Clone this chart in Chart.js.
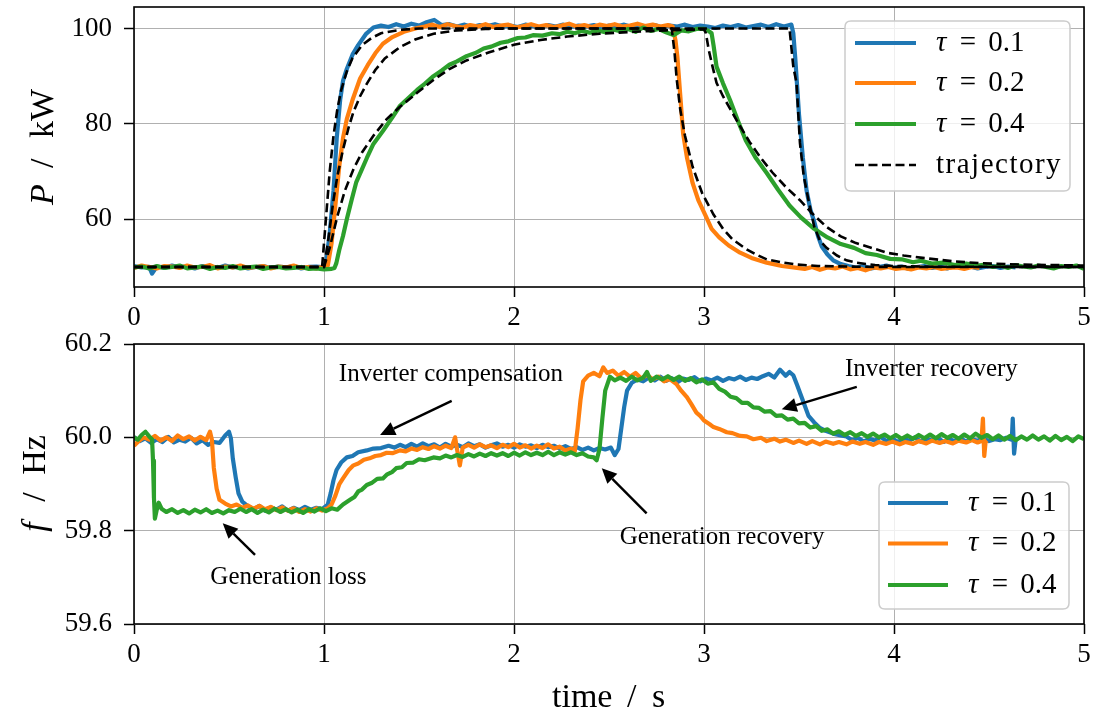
<!DOCTYPE html>
<html><head><meta charset="utf-8">
<script src="https://cdn.jsdelivr.net/npm/chart.js@4.4.1/dist/chart.umd.min.js"></script>
<style>
html,body{margin:0;padding:0;background:#fff;width:1105px;height:714px;overflow:hidden}
#c1{position:absolute;left:0;top:0;width:1105px;height:340px}
#c2{position:absolute;left:0;top:320px;width:1105px;height:394px}
</style></head><body>
<canvas id="c1" width="1105" height="340"></canvas>
<canvas id="c2" width="1105" height="394"></canvas>
<script>
// ---------------- DATA ----------------
const xTicks = [0, 1, 2, 3, 4, 5];
const xTickLabels = ['0', '1', '2', '3', '4', '5'];
const yTicksP = [60, 80, 100];
const yTickLabelsP = ['60', '80', '100'];
const yTicksF = [59.6, 59.8, 60.0, 60.2];
const yTickLabelsF = ['59.6', '59.8', '60.0', '60.2'];
const seriesLabels = ['τ = 0.1', 'τ = 0.2', 'τ = 0.4', 'trajectory'];

// Active power P [kW] vs time [s]
const P_tau01 = [
[0,50.2],[0.04,49.9],[0.08,50.0],[0.095,48.6],[0.12,50.1],[0.16,49.8],[0.2,50.3],[0.24,49.9],[0.28,50.1],[0.32,49.7],[0.36,50.2],[0.4,50.0],[0.44,49.8],[0.48,50.3],[0.52,49.9],[0.56,50.1],[0.6,49.7],[0.64,50.0],[0.68,50.2],[0.72,49.8],[0.76,50.1],[0.8,49.9],[0.84,50.2],[0.88,49.7],[0.92,50.0],[0.96,50.1],[1.0,49.9],
[1.01,50.5],[1.03,57],[1.05,66],[1.067,77],[1.085,85],[1.1,89],[1.12,91.5],[1.15,94.5],[1.18,96.5],[1.22,98.8],[1.26,100.2],[1.3,100.6],
[1.34,100.3],[1.38,100.9],[1.42,100.4],[1.46,101.0],[1.5,100.6],[1.54,101.3],[1.58,101.8],[1.62,100.7],[1.66,100.9],[1.7,100.4],[1.74,100.8],[1.78,100.3],[1.82,100.7],[1.86,100.5],[1.9,100.9],[1.94,100.4],[1.98,100.6],[2.02,100.3],[2.06,100.8],[2.1,100.5],[2.14,100.2],[2.18,100.7],[2.22,100.4],[2.26,100.8],[2.3,100.3],[2.34,100.6],[2.38,100.4],[2.42,100.7],[2.46,100.2],[2.5,100.6],[2.54,100.4],[2.58,100.8],[2.62,100.3],[2.66,100.6],[2.7,100.4],[2.74,100.7],[2.78,100.2],[2.82,100.6],[2.86,100.4],[2.9,100.8],[2.94,100.3],[2.98,100.6],[3.02,100.4],[3.06,100.1],[3.1,100.6],[3.14,100.3],[3.18,100.7],[3.22,100.2],[3.26,100.5],[3.3,100.8],[3.34,100.3],[3.38,100.9],[3.42,100.4],[3.46,100.8],
[3.47,99],[3.48,94],[3.49,88],[3.5,82],[3.52,73],[3.54,66],[3.56,62],[3.58,59.5],[3.6,56.5],[3.62,54.3],[3.65,52.6],[3.68,51.4],[3.72,50.6],[3.76,50.2],
[3.8,49.9],[3.84,50.2],[3.88,49.7],[3.92,50.0],[3.96,50.3],[4.0,49.8],[4.04,50.1],[4.08,49.6],[4.12,50.0],[4.16,50.2],[4.2,49.8],[4.24,50.1],[4.28,49.7],[4.32,50.2],[4.36,49.9],[4.4,50.1],[4.44,49.7],[4.48,50.0],[4.52,50.2],[4.56,49.8],[4.6,50.1],[4.64,49.9]
];
const P_tau02 = [
[0,49.8],[0.04,50.3],[0.08,50.0],[0.12,49.7],[0.16,50.2],[0.2,50.1],[0.24,49.8],[0.28,50.3],[0.32,49.9],[0.36,50.0],[0.4,50.4],[0.44,49.7],[0.48,50.1],[0.52,49.9],[0.56,50.3],[0.6,49.8],[0.64,50.0],[0.68,50.2],[0.72,49.7],[0.76,50.1],[0.8,49.9],[0.84,50.3],[0.88,49.8],[0.92,50.0],[0.96,49.7],[1.0,50.1],
[1.02,50.3],[1.04,55],[1.06,63],[1.08,71],[1.1,77],[1.12,81],[1.15,85],[1.19,89.5],[1.23,92.3],[1.27,94.8],[1.31,96.8],[1.36,98.2],[1.42,99.3],[1.49,100.1],
[1.53,100.4],[1.57,100.8],[1.61,100.3],[1.65,100.9],[1.69,100.5],[1.73,100.2],[1.77,100.7],[1.81,100.4],[1.85,100.9],[1.89,100.3],[1.93,100.6],[1.97,100.8],[2.01,100.2],[2.05,100.5],[2.09,100.9],[2.13,100.4],[2.17,100.7],[2.21,100.3],[2.25,100.6],[2.29,101.0],[2.33,100.4],[2.37,100.7],[2.41,100.3],[2.45,100.8],[2.49,100.5],[2.53,100.9],[2.57,100.4],[2.61,100.6],[2.65,101.0],[2.69,100.5],[2.73,100.8],[2.77,100.4],[2.81,100.7],
[2.835,100.4],[2.85,97.5],[2.86,94],[2.875,86],[2.89,78],[2.91,73],[2.94,67.6],[2.97,64],[3.01,60.6],[3.04,58],[3.08,56.2],[3.13,54.5],[3.19,53],[3.25,51.9],[3.33,50.9],[3.41,50.2],[3.49,49.8],
[3.53,49.6],[3.57,50.0],[3.61,49.4],[3.65,49.9],[3.69,49.7],[3.73,50.1],[3.77,49.5],[3.81,49.8],[3.85,49.3],[3.89,49.9],[3.93,49.7],[3.97,50.0],[4.01,49.6],[4.05,49.8],[4.09,49.5],[4.13,49.9],[4.17,49.7],[4.21,50.0],[4.25,49.6],[4.29,49.8],[4.33,49.9],[4.37,49.6],[4.41,50.0],[4.45,49.8]
];
const P_tau04 = [
[0,49.9],[0.04,50.1],[0.08,49.7],[0.12,50.2],[0.16,49.8],[0.2,50.0],[0.24,50.3],[0.28,49.7],[0.32,49.9],[0.36,50.1],[0.4,49.6],[0.44,50.0],[0.48,49.8],[0.52,50.2],[0.56,49.7],[0.6,49.9],[0.64,50.1],[0.68,49.6],[0.72,49.9],[0.76,50.0],[0.8,49.7],[0.84,49.8],[0.88,50.0],[0.92,49.6],[0.96,49.7],[1.0,49.5],[1.04,49.6],
[1.055,49.8],[1.065,50.8],[1.08,53.5],[1.1,56.5],[1.12,60],[1.145,64],[1.17,67.8],[1.2,70.5],[1.225,72.8],[1.26,75.8],[1.31,78.5],[1.36,81.4],[1.4,83.8],[1.45,85.6],[1.49,87.1],[1.53,88.4],[1.576,90],[1.62,91.2],[1.66,92.4],[1.7,93.1],[1.75,94.2],[1.8,94.9],[1.84,95.8],[1.88,96.2],[1.93,97.0],[1.97,97.3],[2.02,98.0],[2.06,98.1],[2.1,98.6],[2.15,98.5],[2.2,99.0],
[2.24,98.8],[2.28,99.3],[2.32,99.0],[2.36,99.5],[2.4,99.1],[2.44,99.6],[2.48,99.2],[2.52,99.8],[2.56,99.4],[2.6,99.9],[2.64,99.3],[2.68,100.2],[2.72,99.5],[2.76,99.9],[2.8,99.2],[2.84,98.6],[2.88,99.6],[2.92,99.4],[2.96,99.9],
[3.0,99.9],[3.02,99.6],[3.04,99],[3.05,96.5],[3.066,92],[3.1,88.5],[3.137,85],[3.18,80.5],[3.22,76.5],[3.27,73],[3.33,69.7],[3.39,66.2],[3.45,62.9],[3.51,60.4],[3.58,58],[3.65,56.2],[3.72,54.8],[3.79,54.0],[3.85,52.9],[3.91,52.5],[3.98,51.7],[4.04,51.6],[4.1,51.0],[4.14,51.3],[4.2,50.7],[4.26,50.9],[4.32,50.4],[4.38,50.7],[4.44,50.3],
[4.48,50.5],[4.52,50.0],[4.56,50.3],[4.6,49.8],[4.64,50.4],[4.68,50.1],[4.72,49.9],[4.76,50.3],[4.8,50.0],[4.84,49.7],[4.88,50.2],[4.92,50.0],[4.96,50.3],[5.0,49.6]
];
const P_traj01 = [
[0,50],[0.99,50],[1.01,60],[1.03,70],[1.05,77.5],[1.07,83],[1.09,87],[1.12,91],[1.15,93.8],[1.2,96.5],[1.25,98],[1.3,99],[1.4,99.7],[1.5,100],
[3.45,100],[3.47,92],[3.487,88.6],[3.505,76],[3.525,69],[3.55,64],[3.58,58.5],[3.61,55.5],[3.645,54],[3.7,52.4],[3.75,51.4],[3.8,50.9],[3.9,50.4],[4.0,50.2],[4.2,50.05],[5,50]
];
const P_traj02 = [
[0,50],[1.0,50],[1.02,55],[1.048,63.5],[1.07,69],[1.1,74.6],[1.13,79.3],[1.155,82.5],[1.19,85.8],[1.225,88.4],[1.27,91.3],[1.32,93.7],[1.4,96.1],[1.48,97.7],[1.577,98.9],[1.7,99.6],[1.85,99.9],[2.0,100],
[2.83,100],[2.845,95],[2.856,89.5],[2.875,83],[2.9,77.5],[2.94,71],[2.99,65.5],[3.05,61],[3.1,58],[3.15,55.8],[3.22,53.8],[3.28,52.5],[3.33,51.6],[3.42,50.9],[3.49,50.5],[3.6,50.2],[3.8,50.05],[4.0,50],[5,50]
];
const P_traj04 = [
[0,50],[1.0,50],[1.03,54],[1.07,60.6],[1.11,66],[1.155,70.5],[1.2,74],[1.26,77.5],[1.33,81],[1.4,83.6],[1.49,86.5],[1.576,89.2],[1.66,91.5],[1.75,93.3],[1.87,95],[2.0,96.6],[2.14,97.6],[2.28,98.3],[2.45,98.9],[2.63,99.3],[2.8,99.6],[3.0,99.8],
[3.01,99],[3.025,95.5],[3.045,92],[3.066,88.6],[3.1,85.8],[3.137,83.2],[3.19,79.5],[3.24,76.2],[3.3,72.8],[3.36,69.8],[3.43,66.8],[3.505,64],[3.57,61.2],[3.645,58.4],[3.72,56.4],[3.8,55],[3.89,53.9],[3.96,53],[4.05,52.4],[4.15,51.9],[4.31,51.2],[4.45,50.8],[4.66,50.5],[5,50.3]
];

// Frequency f [Hz] vs time [s]
const F_tau01 = [
[0,60.0],[0.03,59.992],[0.06,59.998],[0.09,59.988],[0.12,59.996],[0.15,59.99],[0.18,60.001],[0.21,59.989],[0.24,59.995],[0.27,59.991],[0.3,59.999],[0.33,59.987],[0.36,59.994],[0.39,59.984],[0.42,59.99],[0.45,59.988],[0.48,60.004],
[0.5,60.012],[0.51,59.998],[0.52,59.955],[0.535,59.915],[0.55,59.88],[0.57,59.862],[0.6,59.852],
[0.63,59.846],[0.66,59.853],[0.69,59.843],[0.72,59.85],[0.75,59.845],[0.78,59.852],[0.81,59.843],[0.84,59.849],[0.87,59.844],[0.9,59.851],[0.93,59.845],[0.96,59.849],[0.99,59.846],
[1.02,59.856],[1.035,59.88],[1.05,59.908],[1.066,59.93],[1.09,59.946],[1.12,59.957],[1.15,59.96],[1.18,59.968],[1.225,59.972],[1.26,59.976],[1.3,59.977],[1.34,59.982],[1.37,59.978],
[1.4,59.984],[1.43,59.979],[1.46,59.986],[1.49,59.98],[1.52,59.987],[1.55,59.981],[1.58,59.985],[1.61,59.978],[1.64,59.986],[1.67,59.98],[1.7,59.984],[1.73,59.979],[1.76,59.987],[1.79,59.981],[1.82,59.985],[1.85,59.978],[1.88,59.983],[1.91,59.987],[1.94,59.98],[1.97,59.984],[2.0,59.978],[2.03,59.985],[2.06,59.98],[2.09,59.983],[2.12,59.977],[2.15,59.984],[2.18,59.979],[2.21,59.982],[2.24,59.976],[2.27,59.981],[2.3,59.975],[2.33,59.979],[2.36,59.973],[2.39,59.978],[2.42,59.972],[2.45,59.977],[2.48,59.974],[2.51,59.978],
[2.53,59.962],[2.55,59.975],[2.565,60.02],[2.58,60.065],[2.595,60.1],[2.62,60.117],[2.65,60.124],
[2.68,60.12],[2.71,60.128],[2.74,60.122],[2.77,60.13],[2.8,60.121],[2.83,60.127],[2.86,60.118],[2.89,60.126],[2.92,60.123],[2.95,60.129],[2.98,60.12],[3.01,60.126],[3.04,60.122],[3.07,60.128],[3.1,60.121],[3.13,60.127],[3.16,60.124],[3.19,60.13],[3.22,60.123],[3.25,60.128],[3.28,60.125],[3.31,60.131],
[3.34,60.136],[3.37,60.128],[3.4,60.145],[3.43,60.132],[3.45,60.14],[3.47,60.133],[3.49,60.112],[3.51,60.09],[3.53,60.068],[3.55,60.046],[3.58,60.032],[3.61,60.02],[3.64,60.014],[3.68,60.008],[3.72,60.004],
[3.75,60.002],[3.78,59.994],[3.81,59.999],[3.84,59.991],[3.87,59.997],[3.9,59.993],[3.93,60.001],[3.96,59.992],[3.99,59.998],[4.02,59.99],[4.05,59.996],[4.08,59.993],[4.11,60.0],[4.14,59.991],[4.17,59.997],[4.2,59.993],[4.23,59.999],[4.26,59.99],[4.29,59.996],[4.32,59.992],[4.35,59.998],[4.38,59.991],[4.41,59.995],[4.44,59.993],[4.47,59.998],[4.5,59.992],[4.53,59.996],[4.56,59.994],[4.59,59.999],
[4.62,59.995],[4.625,60.04],[4.632,59.965],[4.64,59.995],[4.65,59.998]
];
const F_tau02 = [
[0,59.982],[0.02,59.99],[0.05,60.0],[0.08,59.995],[0.11,60.003],[0.14,59.993],[0.17,60.0],[0.2,59.992],[0.23,60.004],[0.26,59.996],[0.29,60.002],[0.32,59.993],[0.35,60.001],[0.38,59.994],[0.4,60.012],[0.41,59.995],[0.42,59.935],[0.435,59.89],[0.45,59.866],[0.48,59.858],
[0.51,59.852],[0.54,59.856],[0.57,59.849],[0.6,59.854],[0.63,59.847],[0.66,59.853],[0.69,59.846],[0.72,59.851],[0.75,59.844],[0.78,59.85],[0.81,59.843],[0.84,59.848],[0.87,59.84],[0.9,59.846],[0.93,59.841],[0.96,59.848],[0.99,59.843],[1.02,59.848],
[1.04,59.856],[1.06,59.875],[1.08,59.899],[1.1,59.912],[1.13,59.93],[1.155,59.94],[1.18,59.944],[1.21,59.952],[1.24,59.955],[1.27,59.96],[1.3,59.962],[1.33,59.967],[1.36,59.966],[1.4,59.972],[1.43,59.97],[1.46,59.976],[1.49,59.973],[1.52,59.979],[1.55,59.975],[1.58,59.981],[1.61,59.976],[1.64,59.982],[1.67,59.977],[1.69,60.0],[1.7,59.975],[1.715,59.94],[1.73,59.978],[1.76,59.984],[1.79,59.978],[1.82,59.985],[1.85,59.979],[1.88,59.983],[1.91,59.977],[1.94,59.984],[1.97,59.979],[2.0,59.986],[2.03,59.978],[2.06,59.983],[2.09,59.976],[2.12,59.982],[2.15,59.977],[2.18,59.985],[2.21,59.976],[2.24,59.98],[2.27,59.972],[2.3,59.976],[2.32,59.97],
[2.335,60.02],[2.35,60.08],[2.364,60.12],[2.39,60.132],[2.42,60.138],[2.45,60.131],[2.47,60.15],[2.49,60.138],[2.52,60.143],[2.55,60.132],[2.58,60.14],[2.61,60.13],[2.64,60.138],[2.67,60.126],[2.7,60.134],[2.73,60.124],[2.76,60.13],[2.79,60.12],[2.82,60.125],[2.855,60.114],
[2.88,60.1],[2.91,60.086],[2.935,60.07],[2.96,60.053],[2.98,60.046],[3.0,60.036],[3.03,60.028],[3.05,60.022],[3.08,60.018],[3.12,60.011],[3.15,60.009],[3.19,60.003],[3.225,60.002],[3.26,59.996],[3.3,59.999],[3.33,59.992],[3.37,59.997],[3.4,59.991],[3.43,59.995],[3.47,59.988],[3.5,59.993],[3.54,59.986],[3.57,59.992],[3.61,59.985],[3.64,59.991],[3.68,59.986],[3.71,59.99],[3.75,59.985],[3.78,59.991],[3.82,59.986],[3.85,59.99],[3.89,59.984],[3.92,59.99],[3.96,59.986],[3.99,59.991],[4.03,59.985],[4.06,59.99],[4.1,59.986],[4.13,59.992],[4.17,59.987],[4.2,59.993],[4.24,59.988],[4.27,59.992],[4.31,59.987],[4.34,59.993],[4.38,59.989],[4.41,59.994],[4.44,59.989],[4.46,59.992],[4.468,60.04],[4.475,59.96],[4.482,59.99],[4.49,59.993]
];
const F_tau04 = [
[0,60.0],[0.02,59.995],[0.04,60.005],[0.06,60.012],[0.08,60.002],[0.095,59.996],[0.1,59.95],[0.105,59.87],[0.11,59.826],[0.12,59.845],[0.13,59.86],[0.145,59.847],
[0.17,59.84],[0.2,59.846],[0.23,59.838],[0.26,59.844],[0.29,59.837],[0.32,59.845],[0.35,59.839],[0.38,59.846],[0.41,59.838],[0.44,59.843],[0.47,59.837],[0.5,59.844],[0.53,59.84],[0.56,59.847],[0.59,59.84],[0.62,59.846],[0.65,59.838],[0.68,59.845],[0.71,59.839],[0.74,59.847],[0.77,59.84],[0.8,59.846],[0.83,59.839],[0.86,59.845],[0.89,59.838],[0.92,59.846],[0.95,59.841],[0.98,59.848],[1.01,59.842],[1.04,59.848],
[1.07,59.845],[1.1,59.856],[1.137,59.866],[1.16,59.872],[1.18,59.884],[1.2,59.888],[1.225,59.898],[1.25,59.902],[1.28,59.911],[1.31,59.912],[1.33,59.92],[1.36,59.926],[1.38,59.934],[1.41,59.936],[1.435,59.945],[1.47,59.946],[1.5,59.953],[1.53,59.951],[1.576,59.957],[1.61,59.955],[1.64,59.961],[1.67,59.957],[1.7,59.962],[1.73,59.958],[1.76,59.964],[1.79,59.959],[1.82,59.965],[1.85,59.96],[1.88,59.966],[1.91,59.961],[1.94,59.966],[1.97,59.96],[2.0,59.967],[2.03,59.961],[2.06,59.968],[2.09,59.962],[2.12,59.967],[2.15,59.962],[2.18,59.969],[2.21,59.962],[2.24,59.968],[2.27,59.963],[2.3,59.968],[2.33,59.962],[2.36,59.966],[2.39,59.959],[2.42,59.957],[2.435,59.951],
[2.45,59.975],[2.465,60.04],[2.48,60.1],[2.505,60.13],[2.53,60.122],[2.56,60.128],[2.59,60.121],[2.62,60.13],[2.65,60.122],[2.68,60.128],[2.7,60.14],[2.72,60.121],[2.75,60.13],[2.78,60.124],[2.81,60.131],[2.84,60.123],[2.87,60.13],[2.9,60.121],[2.93,60.127],[2.96,60.118],[2.99,60.124],[3.02,60.115],[3.05,60.118],
[3.08,60.104],[3.11,60.098],[3.14,60.087],[3.17,60.084],[3.2,60.074],[3.23,60.074],[3.26,60.064],[3.29,60.063],[3.32,60.055],[3.35,60.056],[3.38,60.046],[3.41,60.047],[3.44,60.038],[3.47,60.04],[3.5,60.03],[3.53,60.031],[3.56,60.021],[3.59,60.024],[3.62,60.014],[3.65,60.017],[3.68,60.008],[3.71,60.013],[3.74,60.005],[3.77,60.011],[3.8,60.003],[3.83,60.009],[3.86,60.001],[3.89,60.008],[3.92,60.0],[3.95,60.006],[3.98,59.998],[4.01,60.005],[4.04,59.997],[4.07,60.004],[4.1,59.997],[4.13,60.005],[4.16,59.998],[4.19,60.006],[4.22,59.998],[4.25,60.007],[4.28,59.999],[4.31,60.005],[4.34,59.997],[4.37,60.006],[4.4,59.998],[4.43,60.008],[4.46,59.999],[4.49,60.005],[4.52,59.996],[4.55,60.004],[4.58,59.995],[4.61,60.003],[4.64,59.994],[4.67,60.002],[4.7,59.995],[4.73,60.004],[4.76,59.995],[4.79,60.002],[4.82,59.993],[4.85,60.003],[4.88,59.994],[4.91,60.001],[4.94,59.992],[4.97,60.002],[5.0,59.996]
];

const annotationTexts = ['Inverter compensation', 'Generation loss', 'Generation recovery', 'Inverter recovery'];

// ---------------- RENDERING ----------------
const FAM = '"Liberation Serif", "Times New Roman", serif';
const COLORS = ['#1f77b4', '#ff7f0e', '#2ca02c'];
const toXY = a => a.map(p => ({x: p[0], y: p[1]}));

function lineDs(label, data, color, order) {
  return {label, data: toXY(data), borderColor: color, borderWidth: 4.2, pointRadius: 0, fill: false,
    tension: 0, borderJoinStyle: 'round', order};
}
function trajDs(label, data) {
  return {label, data: toXY(data), borderColor: '#000', borderWidth: 2.6, borderDash: [9, 4.5],
    pointRadius: 0, fill: false, tension: 0, order: 0};
}
function gridOpts() {
  return {color: '#b0b0b0', lineWidth: 1, tickColor: '#000', tickLength: 10, tickWidth: 1.5};
}
function zeroPad(s) { s.paddingTop = 0; s.paddingBottom = 0; s.paddingLeft = 0; s.paddingRight = 0; }
function xScale(h) {
  return {type: 'linear', min: 0, max: 5,
    afterBuildTicks: s => { s.ticks = xTicks.map(v => ({value: v})); },
    afterFit: s => { s.height = h; zeroPad(s); },
    grid: gridOpts(), border: {display: false},
    ticks: {font: {family: FAM, size: 27}, color: '#000', padding: 5, maxRotation: 0, autoSkip: false,
      callback: (v, i) => xTickLabels[i]}};
}
function yScale(min, max, tv, tl) {
  return {type: 'linear', min, max,
    afterBuildTicks: s => { s.ticks = tv.map(v => ({value: v})); },
    afterFit: s => { s.width = 134; zeroPad(s); },
    grid: gridOpts(), border: {display: false},
    ticks: {font: {family: FAM, size: 27}, color: '#000', padding: 12, autoSkip: false,
      callback: (v, i) => tl[i]}};
}

function roundRect(ctx, x, y, w, h, r) {
  ctx.beginPath();
  ctx.moveTo(x + r, y); ctx.lineTo(x + w - r, y); ctx.quadraticCurveTo(x + w, y, x + w, y + r);
  ctx.lineTo(x + w, y + h - r); ctx.quadraticCurveTo(x + w, y + h, x + w - r, y + h);
  ctx.lineTo(x + r, y + h); ctx.quadraticCurveTo(x, y + h, x, y + h - r);
  ctx.lineTo(x, y + r); ctx.quadraticCurveTo(x, y, x + r, y); ctx.closePath();
}
function drawLabel(ctx, label, x, y, size) {
  ctx.fillStyle = '#000'; ctx.textBaseline = 'middle'; ctx.textAlign = 'left';
  const m = label.match(/^τ\s*=\s*(.*)$/);
  if (m) {
    ctx.font = `italic ${size}px ${FAM}`; ctx.fillText('τ', x, y);
    ctx.font = `${size}px ${FAM}`;
    ctx.fillText('=', x + 0.82 * size, y);
    ctx.fillText(m[1], x + 1.8 * size, y);
  } else {
    ctx.font = `${size}px ${FAM}`;
    try { ctx.letterSpacing = '1.5px'; } catch (e) {}
    ctx.fillText(label, x, y);
    try { ctx.letterSpacing = '0px'; } catch (e) {}
  }
}
function drawArrow(ctx, x0, y0, x1, y1) {
  const a = Math.atan2(y1 - y0, x1 - x0), hl = 15, hw = 7;
  const bx = x1 - hl * Math.cos(a), by = y1 - hl * Math.sin(a);
  ctx.strokeStyle = '#000'; ctx.lineWidth = 2.4;
  ctx.beginPath(); ctx.moveTo(x0, y0); ctx.lineTo(bx, by); ctx.stroke();
  ctx.fillStyle = '#000'; ctx.beginPath();
  ctx.moveTo(x1, y1);
  ctx.lineTo(bx + hw * Math.sin(a), by - hw * Math.cos(a));
  ctx.lineTo(bx - hw * Math.sin(a), by + hw * Math.cos(a));
  ctx.closePath(); ctx.fill();
}
function drawParts(ctx, parts, size) {
  parts.forEach(p => {
    ctx.font = `${p.italic ? 'italic ' : ''}${size}px ${FAM}`;
    ctx.fillText(p.t, p.off, 0);
  });
}

const deco = {
  id: 'deco',
  afterDatasetsDraw(chart, args, o) {
    const ctx = chart.ctx, ca = chart.chartArea, sx = chart.scales.x, sy = chart.scales.y;
    ctx.save();
    ctx.strokeStyle = '#000'; ctx.lineWidth = 1.6;
    ctx.strokeRect(ca.left, ca.top, ca.right - ca.left, ca.bottom - ca.top);
    (o.annotations || []).forEach(an => {
      ctx.font = `25px ${FAM}`; ctx.fillStyle = '#000';
      ctx.textAlign = 'center'; ctx.textBaseline = 'middle';
      ctx.fillText(an.text, sx.getPixelForValue(an.tx), sy.getPixelForValue(an.ty));
      drawArrow(ctx, sx.getPixelForValue(an.a[0]), sy.getPixelForValue(an.a[1]),
        sx.getPixelForValue(an.a[2]), sy.getPixelForValue(an.a[3]));
    });
    const L = o.legend;
    if (L) {
      roundRect(ctx, L.box[0], L.box[1], L.box[2] - L.box[0], L.box[3] - L.box[1], 6);
      ctx.fillStyle = 'rgba(255,255,255,0.8)'; ctx.fill();
      ctx.strokeStyle = '#cccccc'; ctx.lineWidth = 1.5; ctx.stroke();
      L.items.forEach((di, i) => {
        const ds = chart.data.datasets[di], y = L.rows[i];
        ctx.beginPath(); ctx.setLineDash(ds.borderDash || []);
        ctx.strokeStyle = ds.borderColor; ctx.lineWidth = ds.borderWidth;
        ctx.moveTo(L.line[0], y); ctx.lineTo(L.line[1], y); ctx.stroke(); ctx.setLineDash([]);
        drawLabel(ctx, ds.label, L.text, y, L.size);
      });
    }
    ctx.restore();
  },
  afterDraw(chart, args, o) {
    const ctx = chart.ctx;
    ctx.save(); ctx.fillStyle = '#000'; ctx.textAlign = 'left'; ctx.textBaseline = 'alphabetic';
    if (o.yTitle) {
      const t = o.yTitle;
      ctx.translate(t.x, t.yc + t.len / 2); ctx.rotate(-Math.PI / 2);
      drawParts(ctx, t.parts, 34);
      ctx.setTransform(1, 0, 0, 1, 0, 0);
    }
    if (o.xTitle) {
      const t = o.xTitle;
      ctx.translate(0, t.y);
      drawParts(ctx, t.parts, 34);
    }
    ctx.restore();
  }
};

Chart.defaults.font.family = FAM;

new Chart(document.getElementById('c1'), {
  type: 'line',
  data: {datasets: [
    lineDs(seriesLabels[0], P_tau01, COLORS[0], 3),
    lineDs(seriesLabels[1], P_tau02, COLORS[1], 2),
    lineDs(seriesLabels[2], P_tau04, COLORS[2], 1),
    trajDs(seriesLabels[3], P_traj01),
    trajDs('', P_traj02),
    trajDs('', P_traj04)
  ]},
  options: {
    responsive: false, animation: false, normalized: true,
    layout: {autoPadding: false, padding: {top: 7, right: 21, left: 0, bottom: 0}},
    scales: {x: xScale(53), y: yScale(45.8, 104.5, yTicksP, yTickLabelsP)},
    plugins: {legend: {display: false}, tooltip: {enabled: false},
      deco: {
        legend: {box: [845, 21, 1070, 191], rows: [43, 83, 124, 165], line: [855, 916], text: 936, size: 29, items: [0, 1, 2, 3]},
        yTitle: {x: 53, yc: 148.5, len: 113, parts: [{t: 'P', italic: true, off: 0}, {t: '/', off: 37}, {t: 'kW', off: 67}]}
      }}
  },
  plugins: [deco]
});

new Chart(document.getElementById('c2'), {
  type: 'line',
  data: {datasets: [
    lineDs(seriesLabels[0], F_tau01, COLORS[0], 3),
    lineDs(seriesLabels[1], F_tau02, COLORS[1], 2),
    lineDs(seriesLabels[2], F_tau04, COLORS[2], 1)
  ]},
  options: {
    responsive: false, animation: false, normalized: true,
    layout: {autoPadding: false, padding: {top: 24, right: 21, left: 0, bottom: 0}},
    scales: {x: xScale(90), y: yScale(59.6, 60.2, yTicksF, yTickLabelsF)},
    plugins: {legend: {display: false}, tooltip: {enabled: false},
      deco: {
        legend: {box: [879, 162, 1069, 289], rows: [183, 223.5, 265], line: [888, 948], text: 968, size: 29, items: [0, 1, 2]},
        annotations: [
          {text: annotationTexts[0], tx: 1.668, ty: 60.134, a: [1.672, 60.078, 1.295, 60.005]},
          {text: annotationTexts[1], tx: 0.813, ty: 59.700, a: [0.637, 59.748, 0.467, 59.816]},
          {text: annotationTexts[2], tx: 3.095, ty: 59.786, a: [2.698, 59.837, 2.462, 59.934]},
          {text: annotationTexts[3], tx: 4.197, ty: 60.146, a: [3.804, 60.108, 3.409, 60.060]}
        ],
        yTitle: {x: 45, yc: 165.2, len: 93, parts: [{t: 'f', italic: true, off: 0}, {t: '/', off: 30}, {t: 'Hz', off: 57}]},
        xTitle: {y: 386.7, parts: [{t: 'time', off: 552}, {t: '/', off: 627}, {t: 's', off: 652}]}
      }}
  },
  plugins: [deco]
});
</script>
</body></html>
